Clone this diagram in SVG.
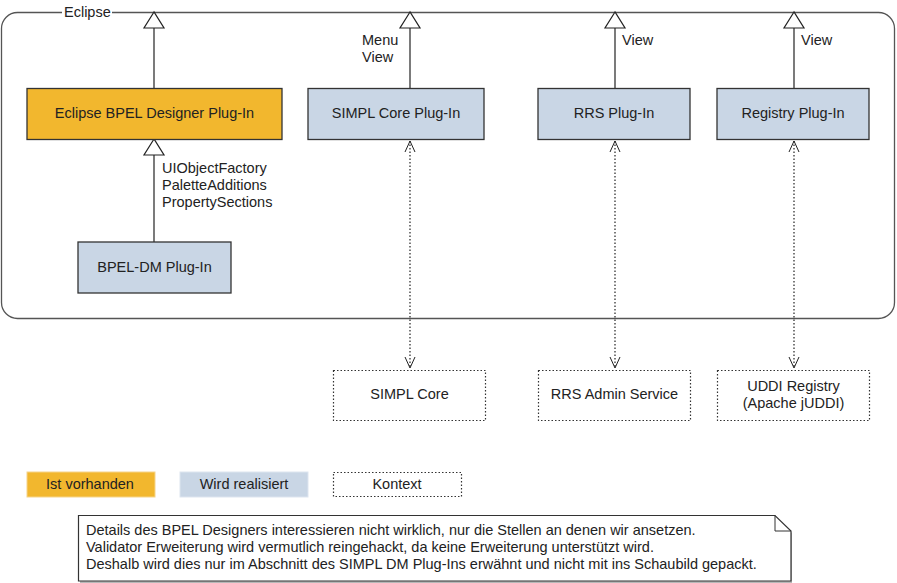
<svg xmlns="http://www.w3.org/2000/svg" width="897" height="583" viewBox="0 0 897 583">
<defs>
<style>
text{font-family:"Liberation Sans",Arial,sans-serif;font-size:14.5px;fill:#222}
.c{text-anchor:middle}
.box{stroke:#333;stroke-width:1.3}
.or{fill:#f2b72e}
.bl{fill:#c9d6e5}
.ctx{fill:#fff;stroke:#333;stroke-width:1.2;stroke-dasharray:1.5 2}
.ln{stroke:#222;stroke-width:1.2;fill:none}
.dl{stroke:#222;stroke-width:1.2;fill:none;stroke-dasharray:1.5 2}
.tri{fill:#fff;stroke:#222;stroke-width:1.2}
</style>
<marker id="open" viewBox="0 0 14 12" refX="12" refY="6" markerWidth="14" markerHeight="12" markerUnits="userSpaceOnUse" orient="auto-start-reverse">
<path d="M1,1 L12,6 L1,11" fill="none" stroke="#222" stroke-width="1"/>
</marker>
</defs>
<rect width="897" height="583" fill="#fff"/>
<g id="container">
<rect x="1.5" y="12.5" width="893" height="306" rx="16" fill="none" stroke="#555" stroke-width="1.3"/>
<rect x="62" y="4" width="50" height="16" fill="#fff"/>
<text x="64" y="17">Eclipse</text>
</g>
<g id="connectors">
<line class="ln" x1="154" y1="88" x2="154" y2="28"/>
<path class="tri" d="M154,12 L144,28 L164,28 Z"/>
<line class="ln" x1="410" y1="88" x2="410" y2="28"/>
<path class="tri" d="M410,12 L400,28 L420,28 Z"/>
<line class="ln" x1="615" y1="88" x2="615" y2="28"/>
<path class="tri" d="M615,12 L605,28 L625,28 Z"/>
<line class="ln" x1="794" y1="88" x2="794" y2="28"/>
<path class="tri" d="M794,12 L784,28 L804,28 Z"/>
<line class="ln" x1="154" y1="242" x2="154" y2="155"/>
<path class="tri" d="M154,139 L144,155 L164,155 Z"/>
<line class="dl" x1="410" y1="141" x2="410" y2="368" marker-start="url(#open)" marker-end="url(#open)"/>
<line class="dl" x1="615" y1="141" x2="615" y2="368" marker-start="url(#open)" marker-end="url(#open)"/>
<line class="dl" x1="794" y1="141" x2="794" y2="368" marker-start="url(#open)" marker-end="url(#open)"/>
<text x="362" y="45">Menu</text>
<text x="362" y="62">View</text>
<text x="622" y="45">View</text>
<text x="801" y="45">View</text>
<text x="162" y="173">UIObjectFactory</text>
<text x="162" y="190">PaletteAdditions</text>
<text x="162" y="207">PropertySections</text>
</g>
<g id="bpel-designer">
<rect class="box or" x="27" y="88.5" width="255" height="51"/>
<text class="c" x="154.5" y="118">Eclipse BPEL Designer Plug-In</text>
</g>
<g id="simpl-core-plugin">
<rect class="box bl" x="308" y="88.5" width="176" height="51"/>
<text class="c" x="396" y="118">SIMPL Core Plug-In</text>
</g>
<g id="rrs-plugin">
<rect class="box bl" x="538" y="88.5" width="152" height="51"/>
<text class="c" x="614" y="118">RRS Plug-In</text>
</g>
<g id="registry-plugin">
<rect class="box bl" x="717" y="88.5" width="152" height="51"/>
<text class="c" x="793" y="118">Registry Plug-In</text>
</g>
<g id="bpel-dm-plugin">
<rect class="box bl" x="78" y="242" width="153" height="51"/>
<text class="c" x="154.5" y="272">BPEL-DM Plug-In</text>
</g>
<g id="simpl-core">
<rect class="ctx" x="333.5" y="370.5" width="152" height="50"/>
<text class="c" x="409.5" y="399">SIMPL Core</text>
</g>
<g id="rrs-admin">
<rect class="ctx" x="538.5" y="370.5" width="152" height="50"/>
<text class="c" x="614.5" y="399">RRS Admin Service</text>
</g>
<g id="uddi">
<rect class="ctx" x="717.5" y="370.5" width="152" height="50"/>
<text class="c" x="793.5" y="391">UDDI Registry</text>
<text class="c" x="793.5" y="408">(Apache jUDDI)</text>
</g>
<g id="legend">
<rect class="or" x="27" y="472" width="128" height="25" stroke="#f6d48a" stroke-width="1"/>
<text class="c" x="90" y="489">Ist vorhanden</text>
<rect class="bl" x="180" y="472" width="128" height="25" stroke="#dde5ef" stroke-width="1"/>
<text class="c" x="244" y="489">Wird realisiert</text>
<rect class="ctx" x="333.5" y="472.5" width="128" height="24"/>
<text class="c" x="397" y="489">Kontext</text>
</g>
<g id="note">
<path d="M80,517 L776,517 L792,533 L792,583 L80,583 Z" fill="#888" opacity="0.6"/>
<path d="M78.5,515.5 L775,515.5 L791,531 L791,581 L78.5,581 Z" fill="#fff" stroke="#333" stroke-width="1.2"/>
<path d="M775,515.5 L775,531 L791,531" fill="none" stroke="#333" stroke-width="1"/>
<text x="86" y="535">Details des BPEL Designers interessieren nicht wirklich, nur die Stellen an denen wir ansetzen.</text>
<text x="86" y="552">Validator Erweiterung wird vermutlich reingehackt, da keine Erweiterung unterstützt wird.</text>
<text x="86" y="569">Deshalb wird dies nur im Abschnitt des SIMPL DM Plug-Ins erwähnt und nicht mit ins Schaubild gepackt.</text>
</g>
</svg>
